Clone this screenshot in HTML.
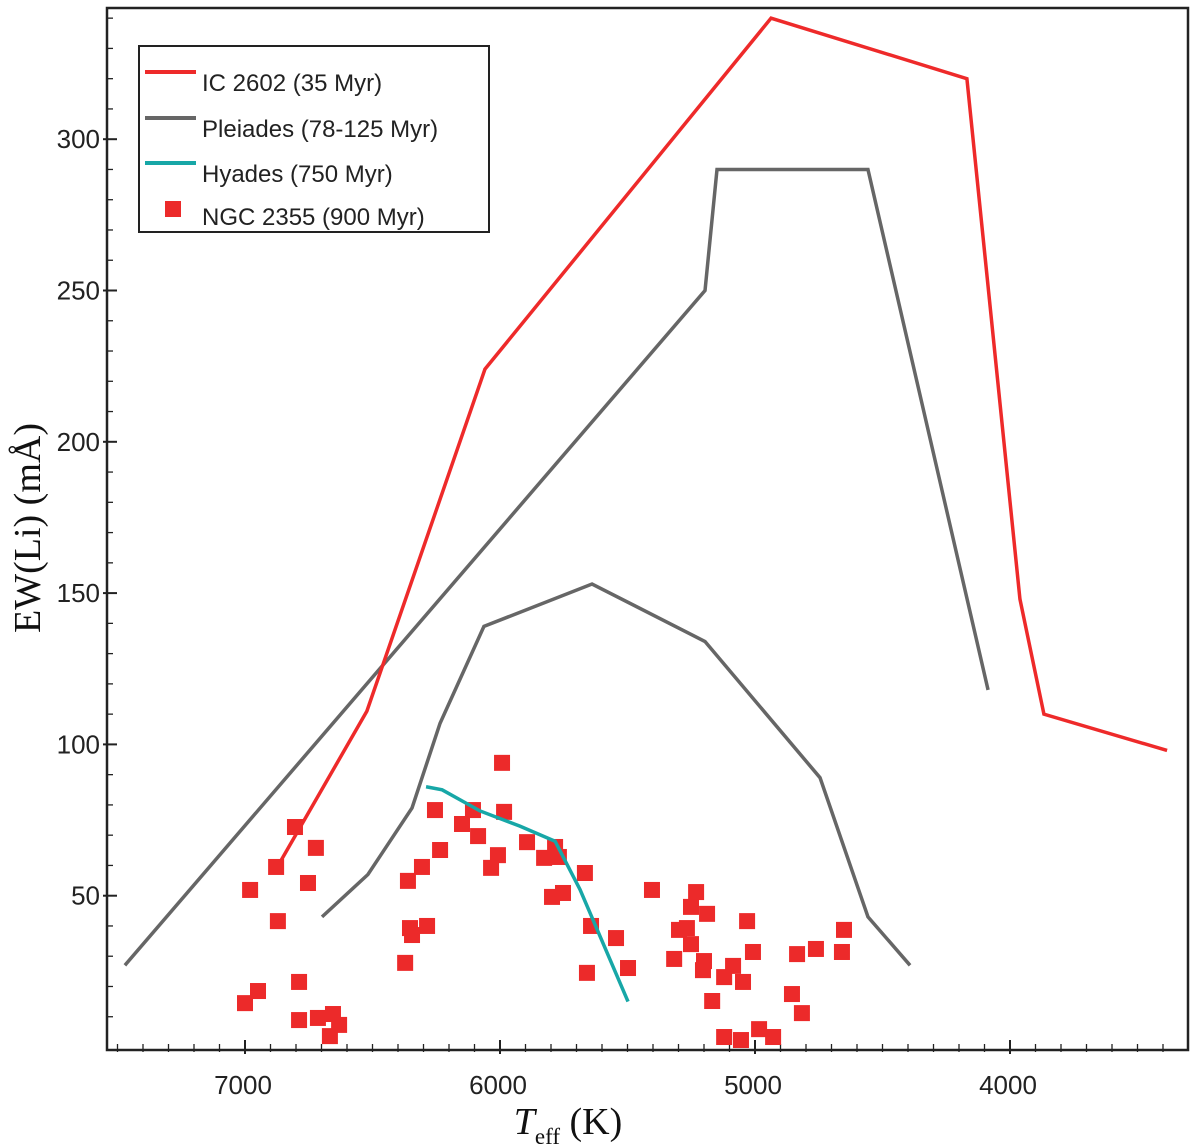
<!DOCTYPE html>
<html><head><meta charset="utf-8"><style>
body{margin:0;background:#fff}
svg{display:block}
.tick{font-family:"Liberation Sans",sans-serif;font-size:26px;fill:#222}
</style></head><body>
<svg id="chart" width="1200" height="1148" viewBox="0 0 1200 1148" xmlns="http://www.w3.org/2000/svg">
<g id="plot"></g>
</svg>
<script>
const xTicks=[7000,6000,5000,4000];
const yTicks=[50,100,150,200,250,300];
const ic2602T=[6863,6522,6059,4937,4169,3961,3867,3384];
const ic2602EW=[61,111,224,340,320,148,110,98];
const pleiUpT=[7471,5196,5149,4557,4086];
const pleiUpEW=[27,250,290,290,118];
const pleiLoT=[6698,6518,6345,6235,6063,5639,5196,4745,4557,4392];
const pleiLoEW=[43,57,79,107,139,153,134,89,43,27];
const hyadesT=[6290,6227,6078,5922,5784,5686,5498];
const hyadesEW=[86,85,78,73,68,52,15];
const ngcT=[5992,6804,6722,6878,6980,6753,6871,6255,6106,5984,6149,6086,6235,6306,6361,6008,6035,5894,5784,5769,5827,5667,5796,5753,5404,5643,5545,5498,5659,6353,6286,6345,6372,6949,7000,6788,6788,6714,6655,6631,6667,5231,5251,5188,5298,5267,5251,5317,5200,5204,5086,5121,5047,5031,5008,5168,4835,4761,4651,4659,4855,4816,5121,5055,4984,4929];
const ngcEW=[93.9,72.7,65.8,59.5,51.9,54.2,41.6,78.3,78.3,77.7,73.7,69.7,65.1,59.5,54.9,63.4,59.2,67.7,66.1,62.8,62.5,57.5,49.6,50.9,51.9,40.0,36.0,26.1,24.5,39.3,40.0,37.0,27.8,18.5,14.5,21.5,8.9,9.6,10.9,7.3,3.6,51.2,46.3,44.0,38.7,39.3,34.0,29.1,28.4,25.4,26.8,23.1,21.5,41.6,31.4,15.2,30.7,32.4,38.7,31.4,17.5,11.2,3.3,2.3,5.9,3.3];

const L=107,R=1188,T=8,B=1050;
const xs=t=>245+(7000-t)*0.255;
const ys=v=>1047-v*3.026;
const NS='http://www.w3.org/2000/svg';
const g=document.getElementById('plot');
function mk(tag,attrs,parent){const e=document.createElementNS(NS,tag);for(const k in attrs)e.setAttribute(k,attrs[k]);(parent||g).appendChild(e);return e;}

let fr=mk('rect',{x:L,y:T,width:R-L,height:B-T,fill:'none',stroke:'#222','stroke-width':2.5});



for(let t=7500;t>=3300;t-=100){const x=xs(t);if(x<L||x>R)continue;const major=t%1000===0;
 mk('line',{x1:x,x2:x,y1:B+(major?4:2),y2:B-(major?10:6),stroke:'#222','stroke-width':major?2:1.3});}
xTicks.forEach(t=>{const e=mk('text',{x:xs(t)-2,y:1094,'text-anchor':'middle',class:'tick'});e.textContent=t;
 
 });
for(let v=10;v<=340;v+=10){const y=ys(v);if(y<T)continue;const major=v%50===0;
 mk('line',{x1:L-(major?4:0),x2:L+(major?10:6),y1:y,y2:y,stroke:'#222','stroke-width':major?2:1.3});}
yTicks.forEach(v=>{const e=mk('text',{x:100,y:ys(v)+9,'text-anchor':'end',class:'tick'});e.textContent=v;
 
 });

let xt=mk('text',{x:568,y:1134,'text-anchor':'middle','font-family':'Liberation Serif, serif','font-size':38,fill:'#111'});
xt.innerHTML='<tspan font-style="italic">T</tspan><tspan font-size="23" dy="10">eff</tspan><tspan dy="-10"> (K)</tspan>';


let yt=mk('text',{x:0,y:0,'text-anchor':'middle','font-family':'Liberation Serif, serif','font-size':38,fill:'#111',transform:'translate(40,528) rotate(-90)'});
yt.textContent='EW(Li) (mÅ)';



function line(ts,ev,color,name){const p=ts.map((t,i)=>xs(t)+','+ys(ev[i])).join(' ');
 const e=mk('polyline',{points:p,fill:'none',stroke:color,'stroke-width':3.5,'stroke-linejoin':'miter'});
 
 }
line(pleiUpT,pleiUpEW,'#666','pleiades-upper-line');
line(pleiLoT,pleiLoEW,'#666','pleiades-lower-line');
line(ic2602T,ic2602EW,'#ee2a2a','ic2602-line');
ngcT.forEach((t,i)=>{const e=mk('rect',{x:xs(t)-8,y:ys(ngcEW[i])-8,width:16,height:16,fill:'#ec2a2a'});
 
 });
line(hyadesT,hyadesEW,'#17a7a7','hyades-line');

const lg=mk('g',{});


mk('rect',{x:139,y:46,width:350,height:186,fill:'#fff',stroke:'#222','stroke-width':2},lg);
const items=[['IC 2602 (35 Myr)','#ee2a2a',82],['Pleiades (78-125 Myr)','#666',128],['Hyades (750 Myr)','#17a7a7',173]];
items.forEach(([txt,c,y])=>{const ent=mk('g',{},lg);
 
 
 mk('line',{x1:145,x2:196,y1:y-10,y2:y-10,stroke:c,'stroke-width':4},ent);
 const t=mk('text',{x:202,y:y+9,'font-family':'Liberation Sans, sans-serif','font-size':24,fill:'#222'},ent);t.textContent=txt;});
const ent4=mk('g',{},lg);


mk('rect',{x:165,y:201,width:16,height:16,fill:'#ec2a2a'},ent4);
const t4=mk('text',{x:202,y:225,'font-family':'Liberation Sans, sans-serif','font-size':24,fill:'#222'},ent4);t4.textContent='NGC 2355 (900 Myr)';
</script>
</body></html>
